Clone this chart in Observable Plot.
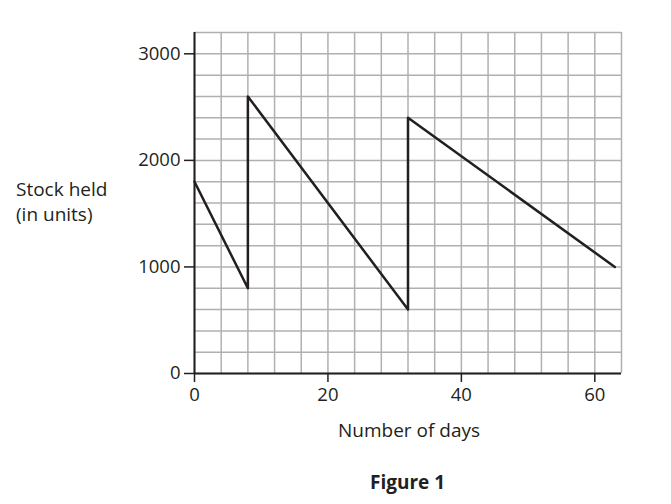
<!DOCTYPE html>
<html>
<head>
<meta charset="utf-8">
<script src="https://cdn.jsdelivr.net/npm/d3@7"></script>
<script src="https://cdn.jsdelivr.net/npm/@observablehq/plot@0.6"></script>
<style>
  html, body { margin: 0; padding: 0; background: #fff; }
  #wrap { position: relative; width: 671px; height: 504px; font-family: "Open Sans", sans-serif; color: #231f20; }
  #chart { position: absolute; left: 0; top: 0; }
  .lbl { position: absolute; font-size: 19px; line-height: 22px; white-space: nowrap; }
</style>
</head>
<body>
<div id="wrap">
  <div id="chart"></div>
  <div class="lbl" style="left:16px; top:177px; line-height:25px;">Stock held<br>(in units)</div>
  <div class="lbl" style="left:338px; top:419px;">Number of days</div>
  <div class="lbl" style="left:370px; top:471px; font-weight:bold;">Figure 1</div>
</div>
<script>
const days  = [0, 8, 8, 32, 32, 63];
const stock = [1800, 800, 2600, 600, 2400, 1000];
const xTicks = [0, 20, 40, 60];
const yTicks = [0, 1000, 2000, 3000];
const xGrid = d3.range(0, 65, 4);
const yGrid = d3.range(0, 3201, 200);

const data = days.map((d, i) => ({day: d, stock: stock[i]}));

const chart = Plot.plot({
  width: 671,
  height: 420,
  marginLeft: 194,
  marginRight: 50,
  marginTop: 32,
  marginBottom: 47,
  style: {fontFamily: "Open Sans, sans-serif", fontSize: "18.5px", color: "#231f20", background: "#fff"},
  x: {domain: [0, 64]},
  y: {domain: [0, 3200]},
  marks: [
    Plot.gridX(xGrid, {stroke: "#b0b0b0", strokeOpacity: 1, strokeWidth: 1.5}),
    Plot.gridY(yGrid, {stroke: "#b0b0b0", strokeOpacity: 1, strokeWidth: 1.5}),
    Plot.axisX(xTicks, {tickSize: 9, tickPadding: 5, label: null, tickFormat: d => String(d), stroke: "#231f20", strokeWidth: 1.5, fontSize: 18.5}),
    Plot.axisY(yTicks, {tickSize: 10, tickPadding: 4, label: null, tickFormat: d => String(d), stroke: "#231f20", strokeWidth: 1.5, fontSize: 18.5}),
    Plot.ruleX([0], {stroke: "#231f20", strokeWidth: 2}),
    Plot.ruleY([0], {stroke: "#231f20", strokeWidth: 2}),
    Plot.line(data, {x: "day", y: "stock", stroke: "#231f20", strokeWidth: 2.5})
  ]
});
document.getElementById("chart").appendChild(chart);
</script>
</body>
</html>
